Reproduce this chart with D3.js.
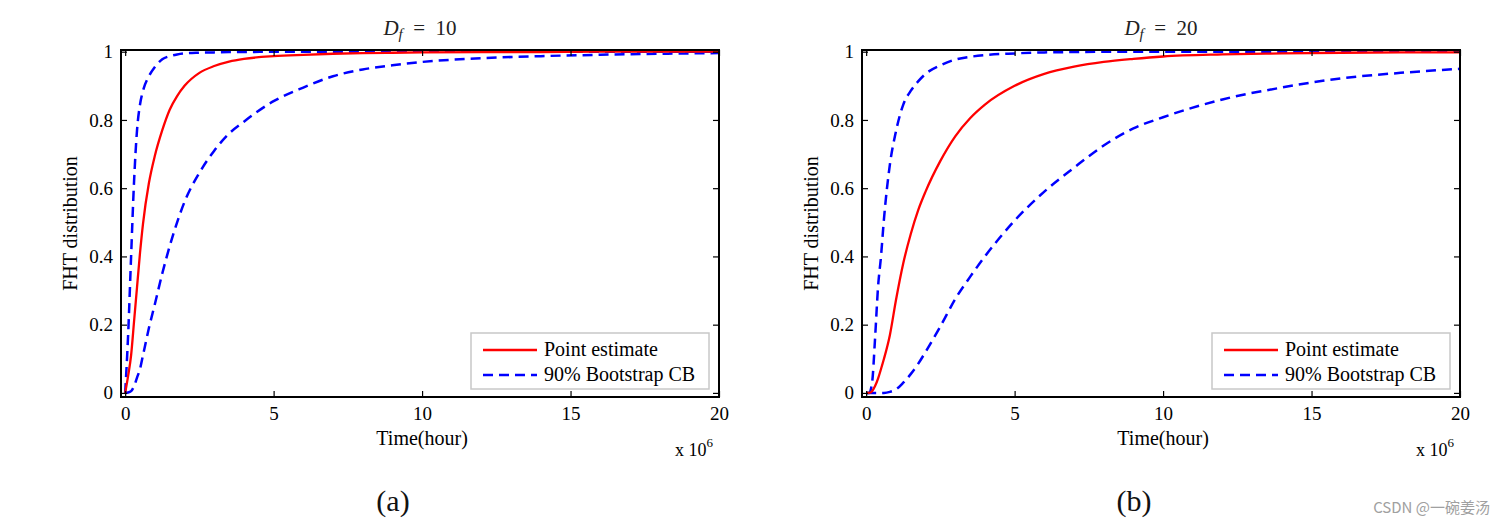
<!DOCTYPE html>
<html>
<head>
<meta charset="utf-8">
<script src="https://cdn.jsdelivr.net/npm/d3@7"></script>
<style>
  html, body { margin: 0; padding: 0; background: #fff; }
  svg { display: block; }
</style>
</head>
<body>
<svg id="chart" width="1503" height="525"></svg>
<script>
// ---- data (time in units of 10^6 hours) ----
const timeGrid = [0, 0.1, 0.2, 0.3, 0.4, 0.5, 0.6, 0.8, 1.0, 1.25, 1.5, 1.75, 2, 2.5, 3, 3.5, 4, 5, 6, 7, 8, 9, 10, 12, 14, 16, 18, 20];

// Panel (a): D_f = 10
const pointA = [0, 0.05, 0.11, 0.21, 0.31, 0.41, 0.495, 0.615, 0.695, 0.77, 0.83, 0.87, 0.90, 0.938, 0.958, 0.971, 0.979, 0.987, 0.991, 0.994, 0.996, 0.997, 0.998, 0.999, 0.999, 1, 1, 1];
const upperA = [0, 0.17, 0.40, 0.62, 0.77, 0.845, 0.885, 0.928, 0.955, 0.978, 0.987, 0.992, 0.995, 0.997, 0.998, 0.999, 0.999, 1, 1, 1, 1, 1, 1, 1, 1, 1, 1, 1];
const lowerA = [0, 0.001, 0.005, 0.02, 0.045, 0.07, 0.11, 0.19, 0.26, 0.35, 0.43, 0.50, 0.56, 0.645, 0.71, 0.76, 0.795, 0.855, 0.895, 0.928, 0.948, 0.96, 0.970, 0.981, 0.987, 0.991, 0.994, 0.996];

// Panel (b): D_f = 20
const pointB = [0, 0, 0.005, 0.02, 0.042, 0.07, 0.10, 0.17, 0.27, 0.38, 0.465, 0.535, 0.59, 0.68, 0.752, 0.805, 0.845, 0.90, 0.935, 0.956, 0.970, 0.979, 0.986, 0.992, 0.995, 0.997, 0.998, 0.998];
const upperB = [0, 0, 0.03, 0.16, 0.31, 0.40, 0.51, 0.67, 0.765, 0.845, 0.885, 0.913, 0.935, 0.96, 0.977, 0.985, 0.99, 0.995, 0.998, 0.999, 1, 1, 1, 1, 1, 1, 1, 1];
const lowerB = [0, 0, 0, 0, 0, 0, 0, 0.003, 0.01, 0.03, 0.055, 0.085, 0.12, 0.195, 0.275, 0.34, 0.40, 0.505, 0.59, 0.66, 0.725, 0.775, 0.808, 0.86, 0.895, 0.922, 0.938, 0.95];

const xTicks = [0, 5, 10, 15, 20];
const yTicks = [0, 0.2, 0.4, 0.6, 0.8, 1];
const titlesDf = ["10", "20"];
const panelLabels = ["(a)", "(b)"];
const legendLabels = ["Point estimate", "90% Bootstrap CB"];
const xLabel = "Time(hour)";
const yLabel = "FHT distribution";

// ---- drawing ----
const svg = d3.select("#chart");
svg.append("rect").attr("width", 1503).attr("height", 525).attr("fill", "#fff");

const serif = "'Liberation Serif', 'Times New Roman', serif";
const dash = "10,6";
const panels = [
  { left: 121, right: 719, top: 50, bottom: 397, point: pointA, upper: upperA, lower: lowerA },
  { left: 862, right: 1460, top: 50, bottom: 397, point: pointB, upper: upperB, lower: lowerB }
];

panels.forEach((p, i) => {
  const x = d3.scaleLinear().domain([-0.14, 20]).range([p.left, p.right]);
  const y = d3.scaleLinear().domain([-0.012, 1.005]).range([p.bottom, p.top]);
  const g = svg.append("g");
  const cx = (p.left + p.right) / 2;

  // curves
  const line = (vals) => d3.line()
    .x((d, k) => x(timeGrid[k]))
    .y(d => y(d))
    .curve(d3.curveMonotoneX)(vals);

  g.append("path").attr("d", line(p.upper)).attr("fill", "none")
    .attr("stroke", "#0000ff").attr("stroke-width", 2.5).attr("stroke-dasharray", dash);
  g.append("path").attr("d", line(p.lower)).attr("fill", "none")
    .attr("stroke", "#0000ff").attr("stroke-width", 2.5).attr("stroke-dasharray", dash);
  g.append("path").attr("d", line(p.point)).attr("fill", "none")
    .attr("stroke", "#ff0000").attr("stroke-width", 2.3);

  // axes
  const axB = g.append("g").attr("transform", `translate(0,${p.bottom})`)
    .call(d3.axisBottom(x).tickValues(xTicks).tickSize(-6).tickPadding(10).tickFormat(d3.format("d")));
  const axT = g.append("g").attr("transform", `translate(0,${p.top})`)
    .call(d3.axisTop(x).tickValues(xTicks).tickSize(-6).tickFormat(""));
  const axL = g.append("g").attr("transform", `translate(${p.left},0)`)
    .call(d3.axisLeft(y).tickValues(yTicks).tickSize(-6).tickPadding(8).tickFormat(d3.format("~g")));
  const axR = g.append("g").attr("transform", `translate(${p.right},0)`)
    .call(d3.axisRight(y).tickValues(yTicks).tickSize(-6).tickFormat(""));
  [axB, axT, axL, axR].forEach(a => {
    a.select(".domain").remove();
    a.selectAll(".tick line").attr("stroke", "#000").attr("stroke-width", 1.2);
    a.selectAll(".tick text").attr("font-family", serif).attr("font-size", 19).attr("fill", "#000");
  });
  axB.selectAll(".tick text").attr("dy", "0.71em");

  g.append("rect").attr("x", p.left).attr("y", p.top)
    .attr("width", p.right - p.left).attr("height", p.bottom - p.top)
    .attr("fill", "none").attr("stroke", "#000").attr("stroke-width", 2);

  // title
  const t = g.append("text").attr("x", cx).attr("y", 35).attr("text-anchor", "middle")
    .attr("font-family", serif).attr("font-size", 21).attr("fill", "#222")
    .attr("xml:space", "preserve");
  t.append("tspan").attr("font-style", "italic").text("D");
  t.append("tspan").attr("font-style", "italic").attr("font-size", 15).attr("dy", 4).text("f");
  t.append("tspan").attr("dy", -4).text("\u2002=\u2002" + titlesDf[i]);

  // axis labels
  g.append("text").attr("x", x(10)).attr("y", 445).attr("text-anchor", "middle")
    .attr("font-family", serif).attr("font-size", 20).attr("fill", "#000").text(xLabel);
  g.append("text").attr("transform", `translate(${p.left - 44},${(p.top + p.bottom) / 2}) rotate(-90)`)
    .attr("text-anchor", "middle").attr("font-family", serif).attr("font-size", 20).attr("fill", "#000").text(yLabel);
  const ex = g.append("text").attr("x", p.right - 44).attr("y", 456)
    .attr("font-family", serif).attr("font-size", 18).attr("fill", "#000");
  ex.append("tspan").text("x 10");
  ex.append("tspan").attr("font-size", 13).attr("dy", -9).text("6");

  // legend
  const lx = p.right - 248, ly = 333, lw = 238, lh = 56;
  const lg = g.append("g");
  lg.append("rect").attr("x", lx).attr("y", ly).attr("width", lw).attr("height", lh)
    .attr("fill", "#fff").attr("stroke", "#c8c8c8").attr("stroke-width", 1.5);
  [["#ff0000", null], ["#0000ff", dash]].forEach((s, k) => {
    const yy = ly + 17 + k * 25;
    lg.append("line").attr("x1", lx + 12).attr("x2", lx + 66).attr("y1", yy).attr("y2", yy)
      .attr("stroke", s[0]).attr("stroke-width", 2.4).attr("stroke-dasharray", s[1]);
    lg.append("text").attr("x", lx + 73).attr("y", yy + 6)
      .attr("font-family", serif).attr("font-size", 20).attr("fill", "#000").text(legendLabels[k]);
  });

  // panel label
  svg.append("text").attr("x", cx - 27).attr("y", 511).attr("text-anchor", "middle")
    .attr("font-family", serif).attr("font-size", 30).attr("fill", "#111").text(panelLabels[i]);
});

// watermark
svg.append("text").attr("x", 1490).attr("y", 513).attr("text-anchor", "end")
  .attr("font-family", "'Noto Sans CJK SC', 'Noto Sans', sans-serif").attr("font-size", 15)
  .attr("fill", "#a0a0a0").text("CSDN @一碗姜汤");
</script>
</body>
</html>
